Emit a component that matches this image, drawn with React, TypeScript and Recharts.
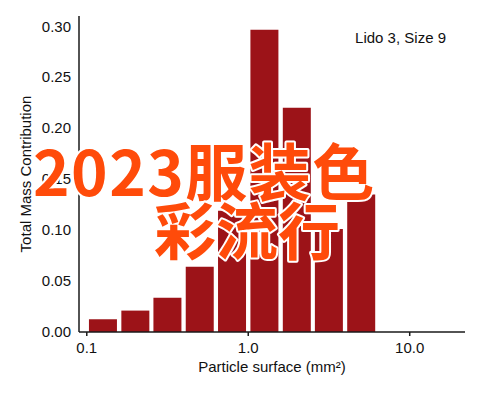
import { Bar, BarChart, XAxis, YAxis } from "recharts";

// particle surface bins (mm², geometric bin centres) and mass share per bin
const binCenters = [0.126, 0.2, 0.316, 0.501, 0.794, 1.26, 2.0, 3.16, 5.01];
const massShare = [0.0125, 0.021, 0.0335, 0.064, 0.119, 0.2965, 0.22, 0.101, 0.135];

const xMajorTicks = [0.1, 1, 10];
const xMinorTicks = [0.2, 0.3, 0.4, 0.5, 0.6, 0.7, 0.8, 0.9, 2, 3, 4, 5, 6, 7, 8, 9, 20];
const yMajorTicks = [0, 0.05, 0.1, 0.15, 0.2, 0.25, 0.3];
const yMinorTicks = [
  0.01, 0.02, 0.03, 0.04, 0.06, 0.07, 0.08, 0.09, 0.11, 0.12, 0.13, 0.14, 0.16, 0.17,
  0.18, 0.19, 0.21, 0.22, 0.23, 0.24, 0.26, 0.27, 0.28, 0.29,
];

const sampleLabel = "Lido 3, Size 9";
const overlayLines = ["2023服装色", "彩流行"];

const data = binCenters.map((size, i) => ({ size, mass: massShare[i] }));

const X_DOMAIN: [number, number] = [0.0895, 22];
const Y_DOMAIN: [number, number] = [0, 0.31];
const INK = "#1a1a1a";
const blank = () => "";

export default function App() {
  return (
    <div
      style={{
        position: "absolute",
        left: 0,
        top: 0,
        width: 485,
        height: 393,
        background: "#fff",
        fontFamily: '"Liberation Sans", Arial, sans-serif',
      }}
    >
      <BarChart width={485} height={393} data={data} margin={{ top: 16, right: 20, bottom: 16, left: 29 }}>
        <XAxis
          xAxisId="x"
          dataKey="size"
          type="number"
          scale="log"
          domain={X_DOMAIN}
          allowDataOverflow
          ticks={xMajorTicks}
          interval={0}
          tickFormatter={(v: number) => v.toFixed(1)}
          tickSize={4}
          tickMargin={6}
          height={45}
          stroke={INK}
          strokeWidth={1.5}
          tick={{ fill: "#111", fontSize: 15 }}
          label={{ value: "Particle surface (mm²)", position: "insideBottom", offset: 5, fill: "#111", fontSize: 15 }}
        />
        <XAxis
          xAxisId="xMinor"
          type="number"
          scale="log"
          domain={X_DOMAIN}
          allowDataOverflow
          ticks={xMinorTicks}
          interval={0}
          tickFormatter={blank}
          mirror
          height={0}
          tickSize={-2.5}
          axisLine={false}
          stroke={INK}
        />
        <XAxis
          xAxisId="xTop"
          orientation="top"
          type="number"
          scale="log"
          domain={X_DOMAIN}
          allowDataOverflow
          ticks={xMajorTicks}
          interval={0}
          tickFormatter={blank}
          mirror
          height={0}
          tickSize={4}
          stroke={INK}
          strokeWidth={1.5}
        />
        <XAxis
          xAxisId="xTopMinor"
          orientation="top"
          type="number"
          scale="log"
          domain={X_DOMAIN}
          allowDataOverflow
          ticks={xMinorTicks}
          interval={0}
          tickFormatter={blank}
          mirror
          height={0}
          tickSize={3}
          axisLine={false}
          stroke={INK}
        />
        <YAxis
          yAxisId="y"
          type="number"
          domain={Y_DOMAIN}
          allowDataOverflow
          ticks={yMajorTicks}
          interval={0}
          tickFormatter={(v: number) => v.toFixed(2)}
          tickLine={false}
          tickSize={0}
          tickMargin={8}
          width={50}
          stroke={INK}
          strokeWidth={1.5}
          tick={{ fill: "#111", fontSize: 15 }}
          label={{
            value: "Total Mass Contribution",
            angle: -90,
            position: "insideLeft",
            offset: -3.5,
            fill: "#111",
            fontSize: 15,
            style: { textAnchor: "middle" },
          }}
        />
        <YAxis
          yAxisId="yTicks"
          type="number"
          domain={Y_DOMAIN}
          allowDataOverflow
          ticks={yMajorTicks}
          interval={0}
          tickFormatter={blank}
          mirror
          width={0}
          tickSize={8}
          axisLine={false}
          stroke={INK}
        />
        <YAxis
          yAxisId="yMinor"
          type="number"
          domain={Y_DOMAIN}
          allowDataOverflow
          ticks={yMinorTicks}
          interval={0}
          tickFormatter={blank}
          mirror
          width={0}
          tickSize={4}
          axisLine={false}
          stroke={INK}
        />
        <YAxis
          yAxisId="yRight"
          orientation="right"
          type="number"
          domain={Y_DOMAIN}
          allowDataOverflow
          ticks={yMajorTicks}
          interval={0}
          tickFormatter={blank}
          mirror
          width={0}
          tickSize={6}
          stroke={INK}
          strokeWidth={1.5}
        />
        <YAxis
          yAxisId="yRightMinor"
          orientation="right"
          type="number"
          domain={Y_DOMAIN}
          allowDataOverflow
          ticks={yMinorTicks}
          interval={0}
          tickFormatter={blank}
          mirror
          width={0}
          tickSize={3}
          axisLine={false}
          stroke={INK}
        />
        <Bar
          xAxisId="x"
          yAxisId="y"
          dataKey="mass"
          fill="#9c1318"
          barSize={28}
          isAnimationActive={false}
        />
      </BarChart>
      <svg width={485} height={393} style={{ position: "absolute", left: 0, top: 0, pointerEvents: "none" }}>
        <text x={446} y={43} textAnchor="end" fontSize={15} fill="#111">
          {sampleLabel}
        </text>
        <g
          fontFamily='"Noto Sans CJK SC", sans-serif'
          fontWeight={700}
          fontSize={62}
          fill="#ff4b0a"
          stroke="#fff"
          strokeWidth={4}
          strokeLinejoin="round"
          style={{ paintOrder: "stroke" }}
        >
          <text x={33} y={196} letterSpacing={1.5}>{overlayLines[0]}</text>
          <text x={154} y={255}>{overlayLines[1]}</text>
        </g>
      </svg>
    </div>
  );
}
